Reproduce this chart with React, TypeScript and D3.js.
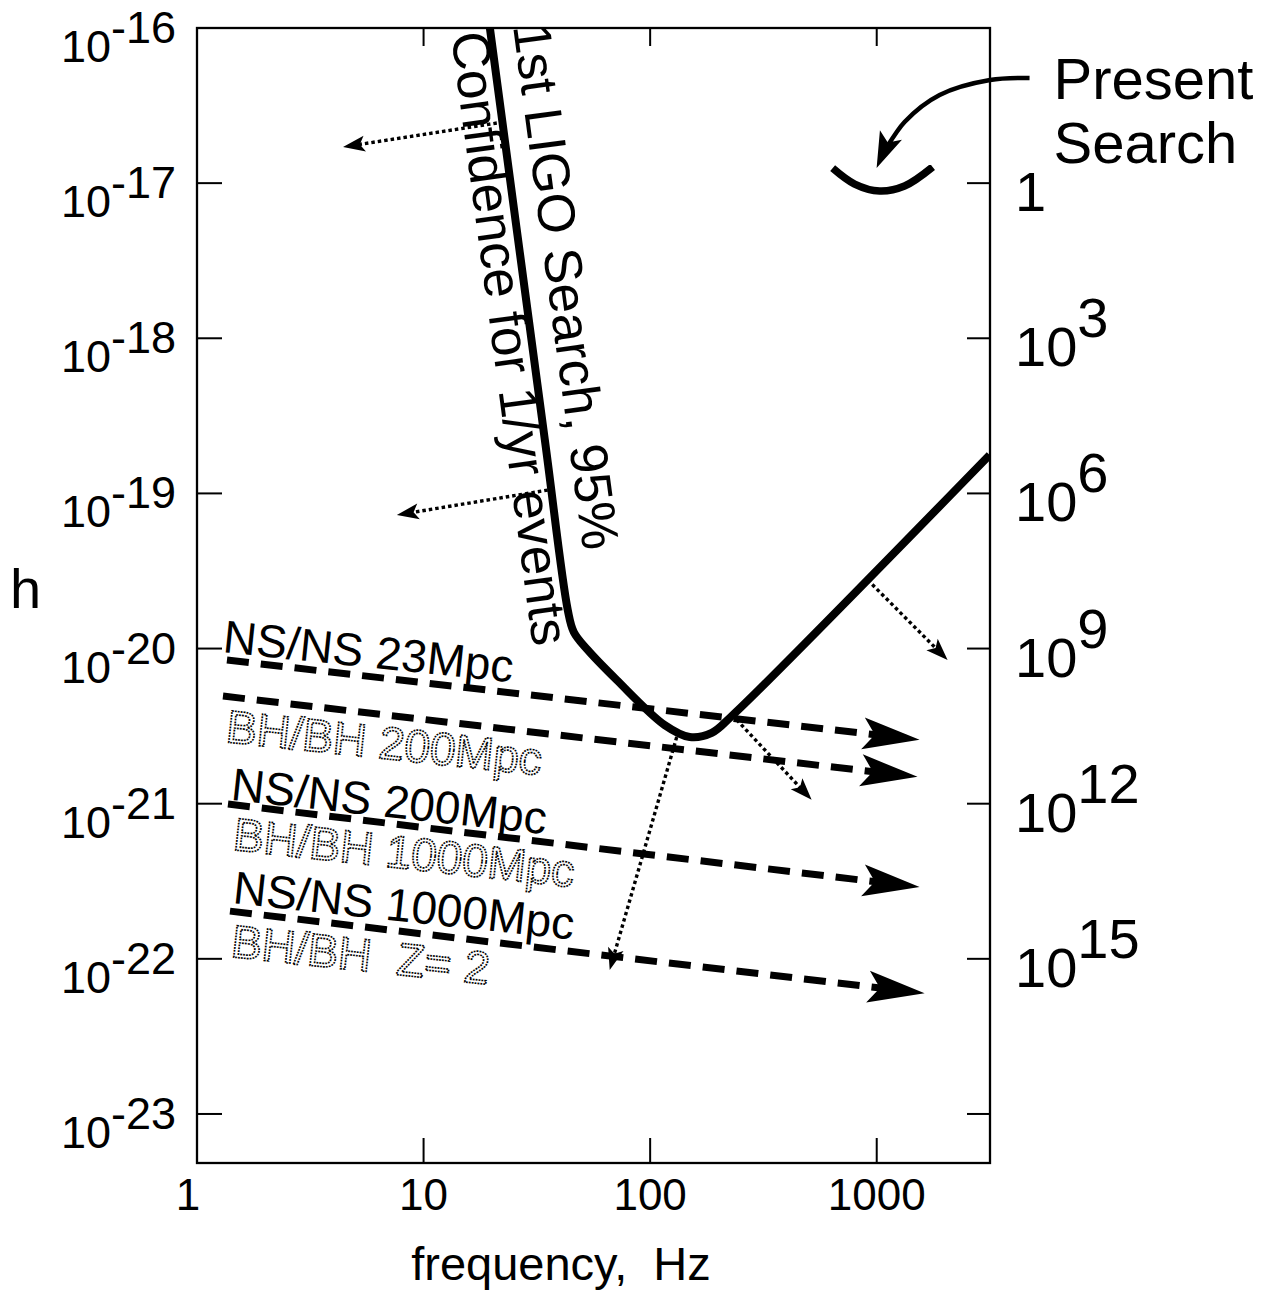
import React from "react";
import * as d3 from "d3";

const FONT = "'Liberation Sans', Arial, Helvetica, sans-serif";

// ---- axes ----
const freqDomain = [1, 3162];
const strainDomain = [1e-16, 4.83e-24];
const freqTicks = [10, 100, 1000];
const freqTickLabels = [1, 10, 100, 1000];
const strainTickExps = [-16, -17, -18, -19, -20, -21, -22, -23];
const rateTickH = [1e-17, 1e-18, 1e-19, 1e-20, 1e-21, 1e-22, 1e-23];
const rateLabelH = [1e-17, 1e-18, 1e-19, 1e-20, 1e-21, 1e-22];
const rateBase = ["1", "10", "10", "10", "10", "10"];
const rateExp = ["", "3", "6", "9", "12", "15"];

// ---- 1st LIGO search curve ----
const ligoFreq = [19.6, 34.3, 43.3, 46.0, 53.0, 71.2, 116, 149.5, 187, 229, 3150];
const ligoH = [1.01e-16, 2.21e-19, 1.77e-20, 1.28e-20, 9.8e-21, 6.27e-21, 3.21e-21, 2.69e-21, 2.86e-21, 3.67e-21, 1.77e-19];
const curveLabelLines = ["1st LIGO Search, 95%", "Confidence for 1/yr events"];
const curveLabelF = [24.8, 13.2];
const curveLabelH = [1.03e-16, 9.15e-17];

// ---- source lines (dashed) ----
const lineStartF = [1.356, 1.302, 1.37, 1.398];
const lineStartH = [8.43e-21, 4.94e-21, 9.95e-22, 2.03e-22];
const lineEndF = [1546, 1514, 1546, 1627];
const lineEndH = [2.58e-21, 1.49e-21, 2.9e-22, 6.0e-23];

const sourceLabels = ["NS/NS 23Mpc", "BH/BH 200Mpc", "NS/NS 200Mpc", "BH/BH 1000Mpc", "NS/NS 1000Mpc", "BH/BH  Z= 2"];
const sourceKind = ["ns", "bh", "ns", "bh", "ns", "bh"];
const sourceLine = [0, 1, 2, 2, 3, 3];
const sourceLabelF = [1.289, 1.329, 1.398, 1.427, 1.427, 1.398];
const sourceLabelH = [9.5e-21, 2.5e-21, 1.06e-21, 5.04e-22, 2.29e-22, 1.03e-22];

// ---- dotted improvement arrows ----
const hintStartF = [21.05, 35.3, 912, 241, 131];
const hintStartH = [2.44e-17, 1.05e-19, 2.77e-20, 3.47e-21, 2.69e-21];
const hintEndF = [4.41, 7.62, 2055, 516, 66.3];
const hintEndH = [1.71e-17, 7.26e-20, 8.43e-21, 1.06e-21, 8.47e-23];

// ---- present search ----
const presentF = [639, 799, 1030, 1327, 1765];
const presentH = [1.25e-17, 9.87e-18, 8.9e-18, 9.58e-18, 1.27e-17];
const pointerF = [4726, 3162, 1895, 1327, 1073, 999];
const pointerH = [4.76e-17, 4.62e-17, 3.7e-17, 2.48e-17, 1.59e-17, 1.25e-17];
const presentText = ["Present", "Search"];
const presentTextF = [6031, 6031];
const presentTextH = [3.5e-17, 1.35e-17];

type P = [number, number];

function headPath(tip: P, from: P, len: number, half: number, notch: number) {
  const dx = tip[0] - from[0], dy = tip[1] - from[1];
  const L = Math.hypot(dx, dy);
  const ux = dx / L, uy = dy / L;
  const nx = -uy, ny = ux;
  const bx = tip[0] - ux * len, by = tip[1] - uy * len;
  const mx = tip[0] - ux * (len - notch), my = tip[1] - uy * (len - notch);
  return `M${tip[0]},${tip[1]}L${bx + nx * half},${by + ny * half}L${mx},${my}L${bx - nx * half},${by - ny * half}Z`;
}

function shorten(from: P, tip: P, d: number): P {
  const dx = tip[0] - from[0], dy = tip[1] - from[1];
  const L = Math.hypot(dx, dy);
  return [tip[0] - (dx / L) * d, tip[1] - (dy / L) * d];
}

export default function App() {
  const x = d3.scaleLog().domain(freqDomain).range([197, 990]);
  const y = d3.scaleLog().domain(strainDomain).range([28, 1163]);
  const [x0, x1] = x.range();
  const [y0, y1] = y.range();

  const ligoPts: P[] = ligoFreq.map((f, i) => [x(f), y(ligoH[i])]);
  const curveLine = d3.line<P>().curve(d3.curveCatmullRom.alpha(0.5));
  const ligoPath = curveLine(ligoPts) || "";
  const ligoAngle = (Math.atan2(ligoPts[2][1] - ligoPts[0][1], ligoPts[2][0] - ligoPts[0][0]) * 180) / Math.PI;

  const lines = lineStartF.map((f, i) => {
    const s: P = [x(f), y(lineStartH[i])];
    const e: P = [x(lineEndF[i]), y(lineEndH[i])];
    return { s, e, angle: (Math.atan2(e[1] - s[1], e[0] - s[0]) * 180) / Math.PI };
  });

  const hints = hintStartF.map((f, i) => {
    const s: P = [x(f), y(hintStartH[i])];
    const e: P = [x(hintEndF[i]), y(hintEndH[i])];
    return { s, e };
  });

  const presentPts: P[] = presentF.map((f, i) => [x(f), y(presentH[i])]);
  const pointerPts: P[] = pointerF.map((f, i) => [x(f), y(pointerH[i])]);
  const pTip = pointerPts[pointerPts.length - 1];
  const pPrev = pointerPts[pointerPts.length - 2];
  const pointerBody = pointerPts.slice(0, -1).concat([shorten(pPrev, pTip, 20)]);

  return (
    <svg
      width={1272}
      height={1302}
      style={{ position: "absolute", left: 0, top: 0, background: "#fff" }}
      fontFamily={FONT}
    >
      <defs>
        <clipPath id="plotclip">
          <rect x={x0} y={y0} width={x1 - x0} height={y1 - y0} />
        </clipPath>
      </defs>
      <rect x={0} y={0} width={1272} height={1302} fill="#fff" />

      {/* frame */}
      <rect x={x0} y={y0} width={x1 - x0} height={y1 - y0} fill="none" stroke="#000" strokeWidth={2.3} />

      {/* x ticks */}
      {freqTicks.map((t) => (
        <g key={"xt" + t}>
          <line x1={x(t)} x2={x(t)} y1={y1} y2={y1 - 25} stroke="#000" strokeWidth={2} />
          <line x1={x(t)} x2={x(t)} y1={y0} y2={y0 + 18} stroke="#000" strokeWidth={2} />
        </g>
      ))}
      {freqTickLabels.map((t) => (
        <text key={"xl" + t} x={x(t) + (t === 1 ? -9 : 0)} y={1210} fontSize={44} textAnchor="middle">
          {t}
        </text>
      ))}
      <text x={561} y={1280} fontSize={47} textAnchor="middle" style={{ whiteSpace: "pre" }}>
        {"frequency,  Hz"}
      </text>

      {/* y ticks left */}
      {strainTickExps.map((e) => {
        const yy = y(Math.pow(10, e));
        return (
          <g key={"yt" + e}>
            {e !== -16 && <line x1={x0} x2={x0 + 25} y1={yy} y2={yy} stroke="#000" strokeWidth={2} />}
            <text x={176} y={yy + 34} fontSize={45} textAnchor="end">
              10<tspan dy={-19}>{String(e)}</tspan>
            </text>
          </g>
        );
      })}
      <text x={10} y={608} fontSize={56}>h</text>

      {/* right ticks and rate labels */}
      {rateTickH.map((h) => (
        <line key={"rt" + h} x1={x1} x2={x1 - 23} y1={y(h)} y2={y(h)} stroke="#000" strokeWidth={2} />
      ))}
      {rateLabelH.map((h, i) => (
        <text key={"rl" + h} x={1015} y={y(h) + 28} fontSize={56}>
          {rateBase[i]}
          {rateExp[i] && <tspan dy={-29}>{rateExp[i]}</tspan>}
        </text>
      ))}

      {/* dashed source lines */}
      {lines.map((l, i) => {
        const end = shorten(l.s, l.e, 40);
        return (
          <g key={"ln" + i}>
            <line x1={l.s[0]} y1={l.s[1]} x2={end[0]} y2={end[1]} stroke="#000" strokeWidth={7} strokeDasharray="22 12" />
            <path d={headPath(l.e, l.s, 57, 16, 12)} fill="#000" />
          </g>
        );
      })}

      {/* source labels */}
      {sourceLabels.map((s, i) => {
        const px = x(sourceLabelF[i]);
        const py = y(sourceLabelH[i]);
        const ang = lines[sourceLine[i]].angle - 0.6;
        const bh = sourceKind[i] === "bh";
        return (
          <text
            key={"sl" + i}
            x={px}
            y={py}
            fontSize={46}
            transform={`rotate(${ang} ${px} ${py})`}
            style={{ whiteSpace: "pre" }}
            fill={bh ? "none" : "#000"}
            stroke={bh ? "#000" : "none"}
            strokeWidth={bh ? 1.7 : 0}
            strokeDasharray={bh ? "1.8 1.1" : undefined}
          >
            {s}
          </text>
        );
      })}

      {/* dotted improvement arrows */}
      {hints.map((h, i) => {
        const end = shorten(h.s, h.e, 14);
        return (
          <g key={"h" + i}>
            <line x1={h.s[0]} y1={h.s[1]} x2={end[0]} y2={end[1]} stroke="#000" strokeWidth={3.4} strokeDasharray="3.5 3" />
            <path d={headPath(h.e, h.s, 22, 8, 5)} fill="#000" />
          </g>
        );
      })}

      {/* LIGO curve */}
      <g clipPath="url(#plotclip)">
        <path d={ligoPath} fill="none" stroke="#000" strokeWidth={8} strokeLinejoin="round" />
      </g>

      {/* curve labels */}
      {curveLabelLines.map((s, i) => {
        const px = x(curveLabelF[i]);
        const py = y(curveLabelH[i]);
        return (
          <text key={"cl" + i} x={px} y={py} fontSize={53} transform={`rotate(${ligoAngle} ${px} ${py})`}>
            {s}
          </text>
        );
      })}

      {/* present search */}
      <path d={curveLine(presentPts) || ""} fill="none" stroke="#000" strokeWidth={7.5} strokeLinecap="butt" />
      <path d={curveLine(pointerBody) || ""} fill="none" stroke="#000" strokeWidth={4.5} />
      <path d={headPath(pTip, pPrev, 36, 12, 8)} fill="#000" />
      {presentText.map((s, i) => (
        <text key={"pt" + i} x={x(presentTextF[i])} y={y(presentTextH[i])} fontSize={58}>
          {s}
        </text>
      ))}
    </svg>
  );
}
